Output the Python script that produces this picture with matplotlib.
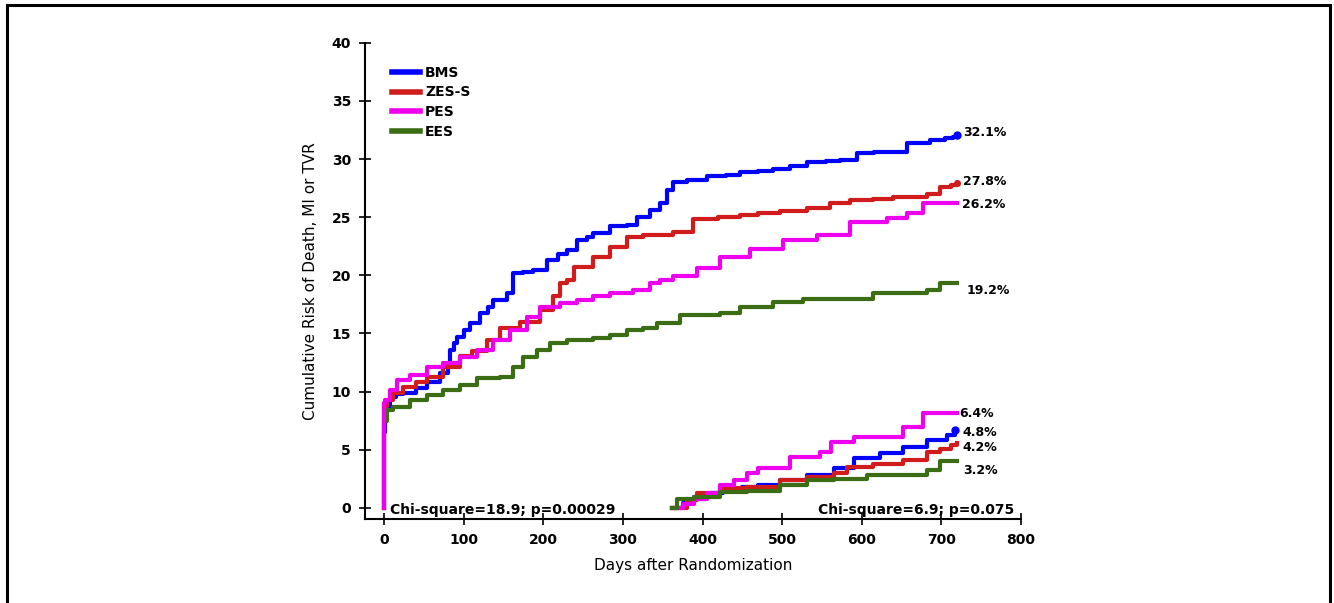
import matplotlib
matplotlib.use('Agg')
import matplotlib.pyplot as plt
from matplotlib.patches import Rectangle

plt.rcParams['font.family'] = ['DejaVu Sans']

# 0-720 days
bms_days = [0, 0, 1, 3, 7, 15, 24, 40, 54, 70, 80, 83, 88, 91, 100, 108, 121, 130, 137, 154, 162,
            175, 187, 204, 218, 230, 242, 255, 263, 284, 305, 318, 334, 347, 355, 363, 380, 405,
            430, 447, 470, 489, 510, 531, 555, 573, 594, 615, 632, 657, 686, 705, 715, 720]
bms_risk = [0, 6.5, 7.5, 8.5, 9.5, 9.8, 9.9, 10.3, 10.8, 11.6, 12.5, 13.6, 14.2, 14.7, 15.3, 15.9,
            16.8, 17.3, 17.9, 18.5, 20.2, 20.3, 20.5, 21.3, 21.8, 22.2, 23.0, 23.3, 23.6, 24.2,
            24.3, 25.0, 25.6, 26.2, 27.3, 28.0, 28.2, 28.5, 28.6, 28.9, 29.0, 29.1, 29.4, 29.7,
            29.8, 29.9, 30.5, 30.6, 30.6, 31.4, 31.6, 31.8, 31.9, 32.1]

zes_days = [0, 0, 2, 4, 11, 24, 40, 54, 74, 95, 110, 129, 146, 171, 196, 212, 221, 230, 238, 263,
            284, 305, 325, 363, 388, 420, 447, 470, 497, 531, 560, 585, 614, 639, 682, 698, 712, 720]
zes_risk = [0, 8.0, 8.8, 9.3, 9.9, 10.4, 10.8, 11.3, 12.1, 13.1, 13.5, 14.4, 15.5, 16.0, 17.0,
            18.2, 19.3, 19.6, 20.7, 21.6, 22.4, 23.3, 23.5, 23.7, 24.8, 25.0, 25.2, 25.4, 25.5,
            25.8, 26.2, 26.5, 26.6, 26.7, 27.0, 27.6, 27.8, 27.9]

pes_days = [0, 0, 1, 7, 16, 33, 54, 74, 95, 117, 137, 158, 180, 196, 221, 242, 263, 284, 313, 334,
            347, 363, 393, 422, 460, 501, 544, 585, 632, 657, 677, 720]
pes_risk = [0, 9.0, 9.3, 10.1, 11.0, 11.4, 12.1, 12.5, 13.0, 13.6, 14.4, 15.3, 16.4, 17.3, 17.6,
            17.9, 18.2, 18.5, 18.7, 19.3, 19.6, 19.9, 20.6, 21.6, 22.3, 23.0, 23.5, 24.6, 24.9,
            25.4, 26.2, 26.2]

ees_days = [0, 0, 4, 11, 33, 54, 74, 95, 117, 146, 162, 175, 192, 208, 230, 263, 284, 305, 325,
            343, 372, 422, 447, 489, 526, 614, 682, 698, 720]
ees_risk = [0, 7.5, 8.4, 8.7, 9.3, 9.7, 10.1, 10.6, 11.2, 11.3, 12.1, 13.0, 13.6, 14.2, 14.4,
            14.6, 14.9, 15.3, 15.5, 15.9, 16.6, 16.8, 17.3, 17.7, 18.0, 18.5, 18.7, 19.3, 19.3]

# landmark 1 year on
bms_l_days = [362, 375, 389, 410, 426, 450, 469, 497, 531, 565, 590, 623, 652, 682, 707, 717]
bms_l_risk = [0, 0.4, 0.9, 1.3, 1.5, 1.8, 2.0, 2.4, 2.8, 3.4, 4.3, 4.7, 5.2, 5.8, 6.3, 6.7]
zes_l_days = [362, 380, 393, 422, 456, 497, 531, 565, 582, 614, 652, 682, 698, 712, 720]
zes_l_risk = [0, 0.7, 1.3, 1.7, 1.8, 2.4, 2.7, 3.0, 3.5, 3.8, 4.1, 4.8, 5.1, 5.4, 5.6]
pes_l_days = [362, 376, 389, 405, 422, 439, 456, 469, 510, 548, 561, 590, 652, 677, 720]
pes_l_risk = [0, 0.3, 0.8, 1.3, 2.0, 2.4, 3.0, 3.4, 4.4, 4.8, 5.7, 6.1, 7.0, 8.2, 8.2]
ees_l_days = [362, 368, 389, 422, 456, 497, 531, 565, 607, 682, 698, 720]
ees_l_risk = [0, 0.8, 0.9, 1.4, 1.5, 2.0, 2.4, 2.5, 2.8, 3.3, 4.0, 4.0]

end_labels = ['32.1%', '27.8%', '26.2%', '19.2%', '6.4%', '4.8%', '4.2%', '3.2%']
label_x = [727, 727, 726, 732, 723, 726, 726, 727]
label_y = [32.3, 28.1, 26.1, 18.7, 8.1, 6.5, 5.2, 3.2]

c_bms = '#0000ff'
c_zes = '#d01c1c'
c_pes = '#ee00ee'
c_ees = '#3a6d14'

fig = plt.figure(figsize=(13.34, 6.03), dpi=100)
ax = fig.add_axes([0.2736, 0.1393, 0.4918, 0.7899])

lw = 3.0
ax.plot(bms_days, bms_risk, drawstyle='steps-post', color=c_bms, lw=lw, label='BMS')
ax.plot(zes_days, zes_risk, drawstyle='steps-post', color=c_zes, lw=lw, label='ZES-S')
ax.plot(pes_days, pes_risk, drawstyle='steps-post', color=c_pes, lw=lw, label='PES', zorder=3)
ax.plot(ees_days, ees_risk, drawstyle='steps-post', color=c_ees, lw=lw, label='EES')

ax.plot(bms_l_days, bms_l_risk, drawstyle='steps-post', color=c_bms, lw=lw)
ax.plot(zes_l_days, zes_l_risk, drawstyle='steps-post', color=c_zes, lw=lw)
ax.plot(pes_l_days, pes_l_risk, drawstyle='steps-post', color=c_pes, lw=lw)
ax.plot(ees_l_days, ees_l_risk, drawstyle='steps-post', color=c_ees, lw=lw)

# end dots
ax.plot([bms_days[-1], bms_l_days[-1]], [bms_risk[-1], bms_l_risk[-1]], 'o', color=c_bms, ms=5)
ax.plot([zes_days[-1]], [zes_risk[-1]], 'o', color=c_zes, ms=4)

for t, x, y in zip(end_labels, label_x, label_y):
    ax.text(x, y, t, fontsize=9, fontweight='bold', va='center', ha='left')

ax.text(8, -0.2, 'Chi-square=18.9; p=0.00029', fontsize=10, fontweight='bold', va='center')
ax.text(545, -0.2, 'Chi-square=6.9; p=0.075', fontsize=10, fontweight='bold', va='center')

ax.set_xlim(-24, 800)
ax.set_ylim(-0.95, 40)
ax.set_xticks(range(0, 801, 100))
ax.set_yticks(range(0, 41, 5))
ax.spines['top'].set_visible(False)
ax.spines['right'].set_visible(False)
ax.spines['left'].set_linewidth(1.5)
ax.spines['bottom'].set_linewidth(1.5)
ax.tick_params(direction='inout', length=8, width=1.2, labelsize=10, pad=6)
for lab in ax.get_xticklabels() + ax.get_yticklabels():
    lab.set_fontweight('bold')

ax.set_xlabel('Days after Randomization', fontsize=11, labelpad=8)
ax.set_ylabel('Cumulative Risk of Death, MI or TVR', fontsize=11, labelpad=10)

leg = ax.legend(loc='upper left', bbox_to_anchor=(0.041, 0.952), frameon=False,
                borderpad=0, borderaxespad=0, handlelength=2.0, handletextpad=0.4,
                labelspacing=0.42, prop={'size': 10, 'weight': 'bold'})
for h in leg.get_lines():
    h.set_linewidth(4)

# outer frame
fig.patches.append(Rectangle((7 / 1334, -0.1), (1330 - 7) / 1334, (603 - 5) / 603 + 0.1,
                             transform=fig.transFigure, fill=False, lw=2.2, ec='black'))

fig.savefig('out.png', dpi=100)
